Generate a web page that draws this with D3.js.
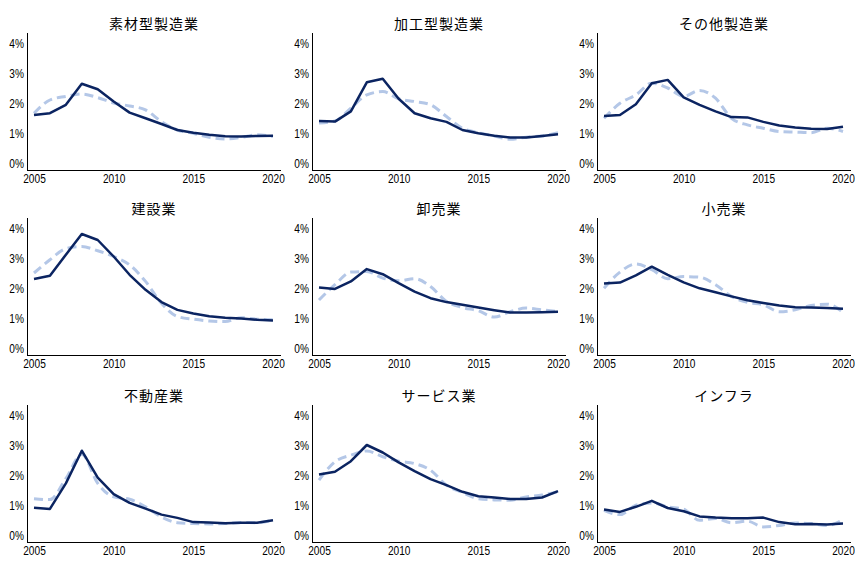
<!DOCTYPE html>
<html>
<head>
<meta charset="utf-8">
<script src="https://cdn.jsdelivr.net/npm/d3@7"></script>
<style>
  html, body { margin: 0; padding: 0; background: #fff; }
  svg { display: block; }
  .tick text { font-family: "Liberation Sans Narrow", "Arial Narrow", "Liberation Sans", sans-serif; font-size: 13px; fill: #000; }
  .title { font-family: "Noto Sans CJK JP", sans-serif; font-size: 14px; letter-spacing: 1px; fill: #000; }
</style>
</head>
<body>
<svg id="chart" width="855" height="561"></svg>
<script>
// Industry panels (3 x 3)
const industries = ["素材型製造業", "加工型製造業", "その他製造業", "建設業", "卸売業", "小売業", "不動産業", "サービス業", "インフラ"];
const years = d3.range(2005, 2021);
const yearTicks = [2005, 2010, 2015, 2020];
const pctTicks = [0, 1, 2, 3, 4];

// Actual rate (solid) per industry, %
const actual = [
  [1.60, 1.66, 1.94, 2.64, 2.46, 2.05, 1.68, 1.49, 1.30, 1.10, 1.01, 0.94, 0.89, 0.88, 0.90, 0.91],
  [1.40, 1.38, 1.72, 2.69, 2.81, 2.14, 1.66, 1.49, 1.37, 1.10, 0.99, 0.91, 0.85, 0.85, 0.90, 0.96],
  [1.57, 1.60, 1.96, 2.66, 2.77, 2.19, 1.94, 1.72, 1.53, 1.52, 1.37, 1.25, 1.18, 1.14, 1.13, 1.21],
  [2.30, 2.41, 3.11, 3.80, 3.60, 3.05, 2.44, 1.94, 1.53, 1.27, 1.15, 1.06, 1.01, 0.98, 0.94, 0.92],
  [2.02, 1.97, 2.22, 2.63, 2.46, 2.16, 1.88, 1.66, 1.53, 1.44, 1.35, 1.26, 1.18, 1.18, 1.19, 1.21],
  [2.15, 2.18, 2.42, 2.71, 2.44, 2.19, 1.99, 1.86, 1.72, 1.59, 1.50, 1.42, 1.36, 1.35, 1.33, 1.31],
  [0.91, 0.87, 1.72, 2.81, 1.91, 1.36, 1.07, 0.88, 0.68, 0.57, 0.43, 0.42, 0.39, 0.41, 0.41, 0.49],
  [2.02, 2.11, 2.46, 3.00, 2.75, 2.42, 2.13, 1.86, 1.66, 1.44, 1.29, 1.25, 1.20, 1.20, 1.25, 1.46],
  [0.85, 0.77, 0.94, 1.14, 0.90, 0.79, 0.62, 0.58, 0.56, 0.56, 0.58, 0.43, 0.36, 0.37, 0.35, 0.38]
];

// Estimated rate (dashed) per industry, %
const estimated = [
  [1.66, 2.10, 2.22, 2.30, 2.18, 2.00, 1.90, 1.77, 1.38, 1.10, 0.99, 0.86, 0.80, 0.85, 0.94, 0.88],
  [1.33, 1.40, 1.83, 2.27, 2.38, 2.14, 2.05, 1.94, 1.55, 1.16, 1.01, 0.90, 0.79, 0.86, 0.90, 1.01],
  [1.49, 1.99, 2.27, 2.66, 2.50, 2.22, 2.42, 2.16, 1.49, 1.27, 1.16, 1.05, 1.03, 1.01, 1.16, 1.05],
  [2.50, 2.94, 3.31, 3.38, 3.24, 3.05, 2.77, 2.22, 1.49, 1.05, 0.96, 0.90, 0.88, 1.01, 0.96, 0.94],
  [1.60, 2.11, 2.53, 2.55, 2.33, 2.24, 2.31, 2.05, 1.55, 1.35, 1.24, 1.03, 1.21, 1.33, 1.27, 1.21],
  [1.99, 2.53, 2.80, 2.61, 2.31, 2.38, 2.36, 2.11, 1.72, 1.52, 1.44, 1.21, 1.27, 1.42, 1.46, 1.19],
  [1.21, 1.18, 1.88, 2.69, 1.72, 1.27, 1.19, 0.94, 0.60, 0.41, 0.38, 0.37, 0.38, 0.42, 0.41, 0.50],
  [1.83, 2.44, 2.66, 2.80, 2.61, 2.46, 2.38, 2.16, 1.66, 1.42, 1.21, 1.17, 1.16, 1.27, 1.33, 1.44],
  [0.82, 0.68, 0.99, 1.07, 0.94, 0.86, 0.49, 0.55, 0.41, 0.46, 0.27, 0.32, 0.40, 0.38, 0.32, 0.51]
];

const svg = d3.select("#chart");
const colOffsets = [0, 285, 570];
const rowOffsets = [0, 185, 372];

// narrow tick glyphs, squeezed horizontally about their anchor
function narrowTicks(sel) {
  sel.selectAll(".tick text").each(function () {
    const t = d3.select(this);
    const tx = +t.attr("x") || 0;
    t.attr("transform", `translate(${tx},0) scale(0.78,1) translate(${-tx},0)`);
  });
}

industries.forEach((name, i) => {
  const ox = colOffsets[i % 3];
  const oy = rowOffsets[Math.floor(i / 3)];
  const g = svg.append("g").attr("transform", `translate(${ox},${oy})`);

  const x = d3.scaleLinear().domain([2005, 2020]).range([34, 273]);
  const y = d3.scaleLinear().domain([0, 4]).range([163, 43]);

  // title
  g.append("text").attr("class", "title")
    .attr("x", 154).attr("y", 29)
    .attr("text-anchor", "middle")
    .text(name);

  // axis lines
  g.append("line").attr("x1", 27.5).attr("x2", 27.5).attr("y1", 33).attr("y2", 170.5)
    .attr("stroke", "#000").attr("stroke-width", 1);
  g.append("line").attr("x1", 27).attr("x2", 281).attr("y1", 170.5).attr("y2", 170.5)
    .attr("stroke", "#000").attr("stroke-width", 1);

  // y tick labels
  const yAxis = g.append("g").attr("transform", "translate(27,0)")
    .call(d3.axisLeft(y).tickValues(pctTicks).tickSize(0).tickPadding(3).tickFormat(d => d + "%"));
  yAxis.select(".domain").remove();
  narrowTicks(yAxis);

  // x tick labels
  const xAxis = g.append("g").attr("transform", "translate(0,170)")
    .call(d3.axisBottom(x).tickValues(yearTicks).tickSize(0).tickPadding(4).tickFormat(d3.format("d")));
  xAxis.select(".domain").remove();
  narrowTicks(xAxis);

  const est = years.map((yr, k) => ({ yr, v: estimated[i][k] }));
  const act = years.map((yr, k) => ({ yr, v: actual[i][k] }));

  g.append("path").datum(est)
    .attr("fill", "none")
    .attr("stroke", "#b4c7e7")
    .attr("stroke-width", 3)
    .attr("stroke-dasharray", "9,5")
    .attr("d", d3.line().curve(d3.curveMonotoneX).x(d => x(d.yr)).y(d => y(d.v)));

  g.append("path").datum(act)
    .attr("fill", "none")
    .attr("stroke", "#0b2461")
    .attr("stroke-width", 2.5)
    .attr("stroke-linejoin", "round")
    .attr("d", d3.line().x(d => x(d.yr)).y(d => y(d.v)));
});
</script>
</body>
</html>
